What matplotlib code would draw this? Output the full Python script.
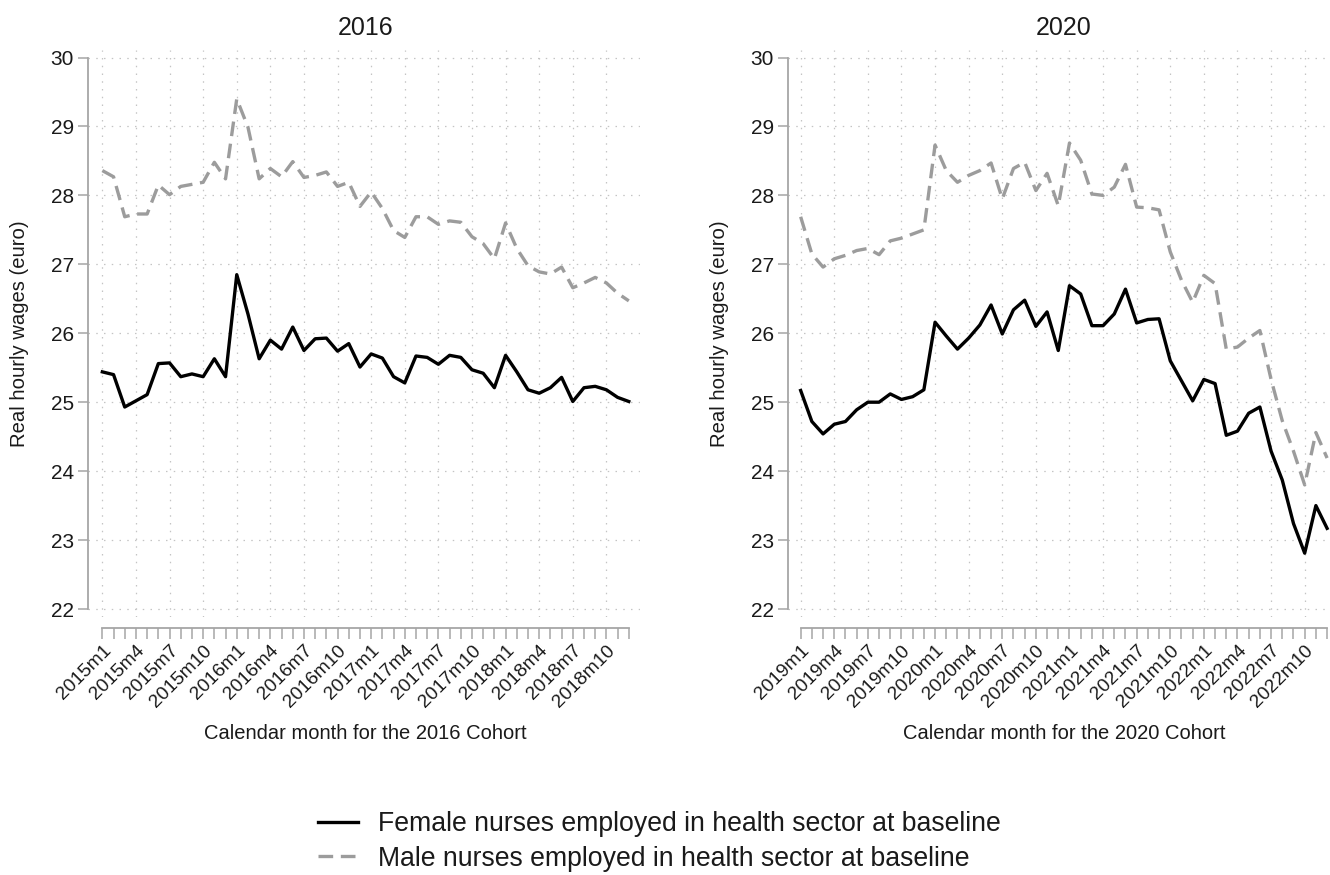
import matplotlib
matplotlib.use("Agg")
import matplotlib.pyplot as plt
from matplotlib.ticker import FixedLocator

plt.rcParams['font.family'] = ['Liberation Sans', 'DejaVu Sans']

# Real hourly wages (euro), monthly, four calendar years per cohort
female_2016 = [25.44, 25.40, 24.93, 25.02, 25.11, 25.56, 25.57, 25.37, 25.41, 25.37, 25.63, 25.37,
               26.85, 26.28, 25.63, 25.90, 25.77, 26.09, 25.75, 25.92, 25.93, 25.74, 25.85, 25.51,
               25.70, 25.64, 25.37, 25.28, 25.67, 25.65, 25.55, 25.68, 25.65, 25.47, 25.42, 25.21,
               25.68, 25.44, 25.18, 25.13, 25.21, 25.36, 25.01, 25.21, 25.23, 25.18, 25.07, 25.01]
male_2016 = [28.36, 28.27, 27.69, 27.73, 27.73, 28.15, 28.01, 28.13, 28.16, 28.19, 28.48, 28.24,
             29.40, 28.99, 28.24, 28.39, 28.27, 28.49, 28.26, 28.29, 28.34, 28.13, 28.19, 27.84,
             28.05, 27.81, 27.49, 27.39, 27.69, 27.69, 27.58, 27.63, 27.61, 27.40, 27.30, 27.08,
             27.60, 27.23, 26.98, 26.89, 26.86, 26.96, 26.66, 26.73, 26.81, 26.73, 26.58, 26.47]
female_2020 = [25.17, 24.72, 24.54, 24.68, 24.72, 24.89, 25.00, 25.00, 25.12, 25.04, 25.08, 25.18,
               26.16, 25.96, 25.77, 25.93, 26.12, 26.41, 25.99, 26.34, 26.48, 26.10, 26.31, 25.75,
               26.69, 26.57, 26.11, 26.11, 26.28, 26.64, 26.15, 26.20, 26.21, 25.60, 25.31, 25.02,
               25.33, 25.27, 24.52, 24.58, 24.84, 24.93, 24.29, 23.87, 23.24, 22.81, 23.50, 23.17]
male_2020 = [27.69, 27.15, 26.96, 27.08, 27.13, 27.20, 27.23, 27.14, 27.34, 27.38, 27.44, 27.50,
             28.73, 28.36, 28.19, 28.29, 28.36, 28.47, 27.95, 28.39, 28.48, 28.07, 28.32, 27.85,
             28.76, 28.51, 28.02, 28.00, 28.12, 28.45, 27.83, 27.82, 27.79, 27.18, 26.77, 26.45,
             26.84, 26.72, 25.77, 25.80, 25.93, 26.04, 25.33, 24.73, 24.29, 23.80, 24.56, 24.19]

years_2016 = [2015, 2016, 2017, 2018]
years_2020 = [2019, 2020, 2021, 2022]
y_ticks = [22, 23, 24, 25, 26, 27, 28, 29, 30]

series_labels = ["Female nurses employed in health sector at baseline",
                 "Male nurses employed in health sector at baseline"]

SPINE = '#a6a6a6'
GRID = '#c4c4c4'
GRAY_LINE = '#9c9c9c'
TEXT = '#1a1a1a'
W, H = 1330, 875


def month_labels(years):
    return [f"{y}m{m}" for y in years for m in range(1, 13)]


def panel(rect_px, xlim, female, male, years, title, cohort):
    l, r, t, b = rect_px
    ax = fig.add_axes([l / W, 1 - b / H, (r - l) / W, (b - t) / H])
    labels = month_labels(years)
    n = len(labels)
    x = list(range(n))

    # grid: integer wages and every third month
    for yv in y_ticks:
        ax.axhline(yv, color=GRID, lw=0.9, ls=(0, (1.2, 5)), zorder=0)
    for xv in x[::3]:
        ax.axvline(xv, color=GRID, lw=0.9, ls=(0, (1.2, 5)), zorder=0)

    lf, = ax.plot(x, female, color='black', lw=2.4, zorder=3)
    lm, = ax.plot(x, male, color=GRAY_LINE, lw=2.4, ls=(0, (4.4, 2.3)), zorder=2)

    ax.set_xlim(*xlim)
    ax.set_ylim(21.884, 30.109)

    for s in ('top', 'right'):
        ax.spines[s].set_visible(False)
    ax.spines['left'].set_bounds(22, 30)
    ax.spines['left'].set_color(SPINE)
    ax.spines['left'].set_linewidth(1.3)
    ax.spines['bottom'].set_position(('outward', 8))
    ax.spines['bottom'].set_bounds(0, n - 1)
    ax.spines['bottom'].set_color(SPINE)
    ax.spines['bottom'].set_linewidth(1.3)

    ax.yaxis.set_major_locator(FixedLocator(y_ticks))
    ax.set_yticklabels([str(v) for v in y_ticks])
    ax.tick_params(axis='y', length=7, width=1.1, color=SPINE, labelsize=15,
                   labelcolor=TEXT, pad=3)

    ax.xaxis.set_major_locator(FixedLocator(x))
    ax.set_xticklabels([lab if i % 3 == 0 else '' for i, lab in enumerate(labels)],
                       rotation=45, ha='right', va='top', rotation_mode='anchor')
    ax.tick_params(axis='x', length=8, width=1.1, color=SPINE, labelsize=13.8,
                   labelcolor=TEXT, pad=2)

    # horizontal centre of the month range, in axes fraction
    scale = (r - l) / (xlim[1] - xlim[0])
    cx_px = l + ((n - 1) / 2 - xlim[0]) * scale
    cx = (cx_px - l) / (r - l)

    ax.set_ylabel("Real hourly wages (euro)", fontsize=14.6, color=TEXT)
    ax.yaxis.set_label_coords((29 - 88) / (r - l), 0.5)
    ax.set_xlabel(f"Calendar month for the {cohort} Cohort", fontsize=14.5,
                  color=TEXT, va='top')
    ax.xaxis.set_label_coords(cx, (b - 724) / (b - t))
    ax.set_title(title, fontsize=18, color=TEXT, pad=11, x=cx)
    return lf, lm


fig = plt.figure(figsize=(W / 100, H / 100), dpi=100)
fig.patch.set_facecolor('white')

lf, lm = panel((88, 640, 50, 617), (-1.28, 48.0), female_2016, male_2016,
               years_2016, "2016", 2016)
panel((788, 1330, 50, 617), (-1.13, 47.26), female_2020, male_2020,
      years_2020, "2020", 2020)

fig.legend([lf, lm], series_labels, loc='upper left',
           bbox_to_anchor=(318 / W, 1 - 811 / H), frameon=False, fontsize=19.2,
           handlelength=1.5, handletextpad=0.75, labelspacing=0.32,
           borderpad=0, borderaxespad=0, labelcolor=TEXT)

fig.savefig("out.png", dpi=100, facecolor='white')
